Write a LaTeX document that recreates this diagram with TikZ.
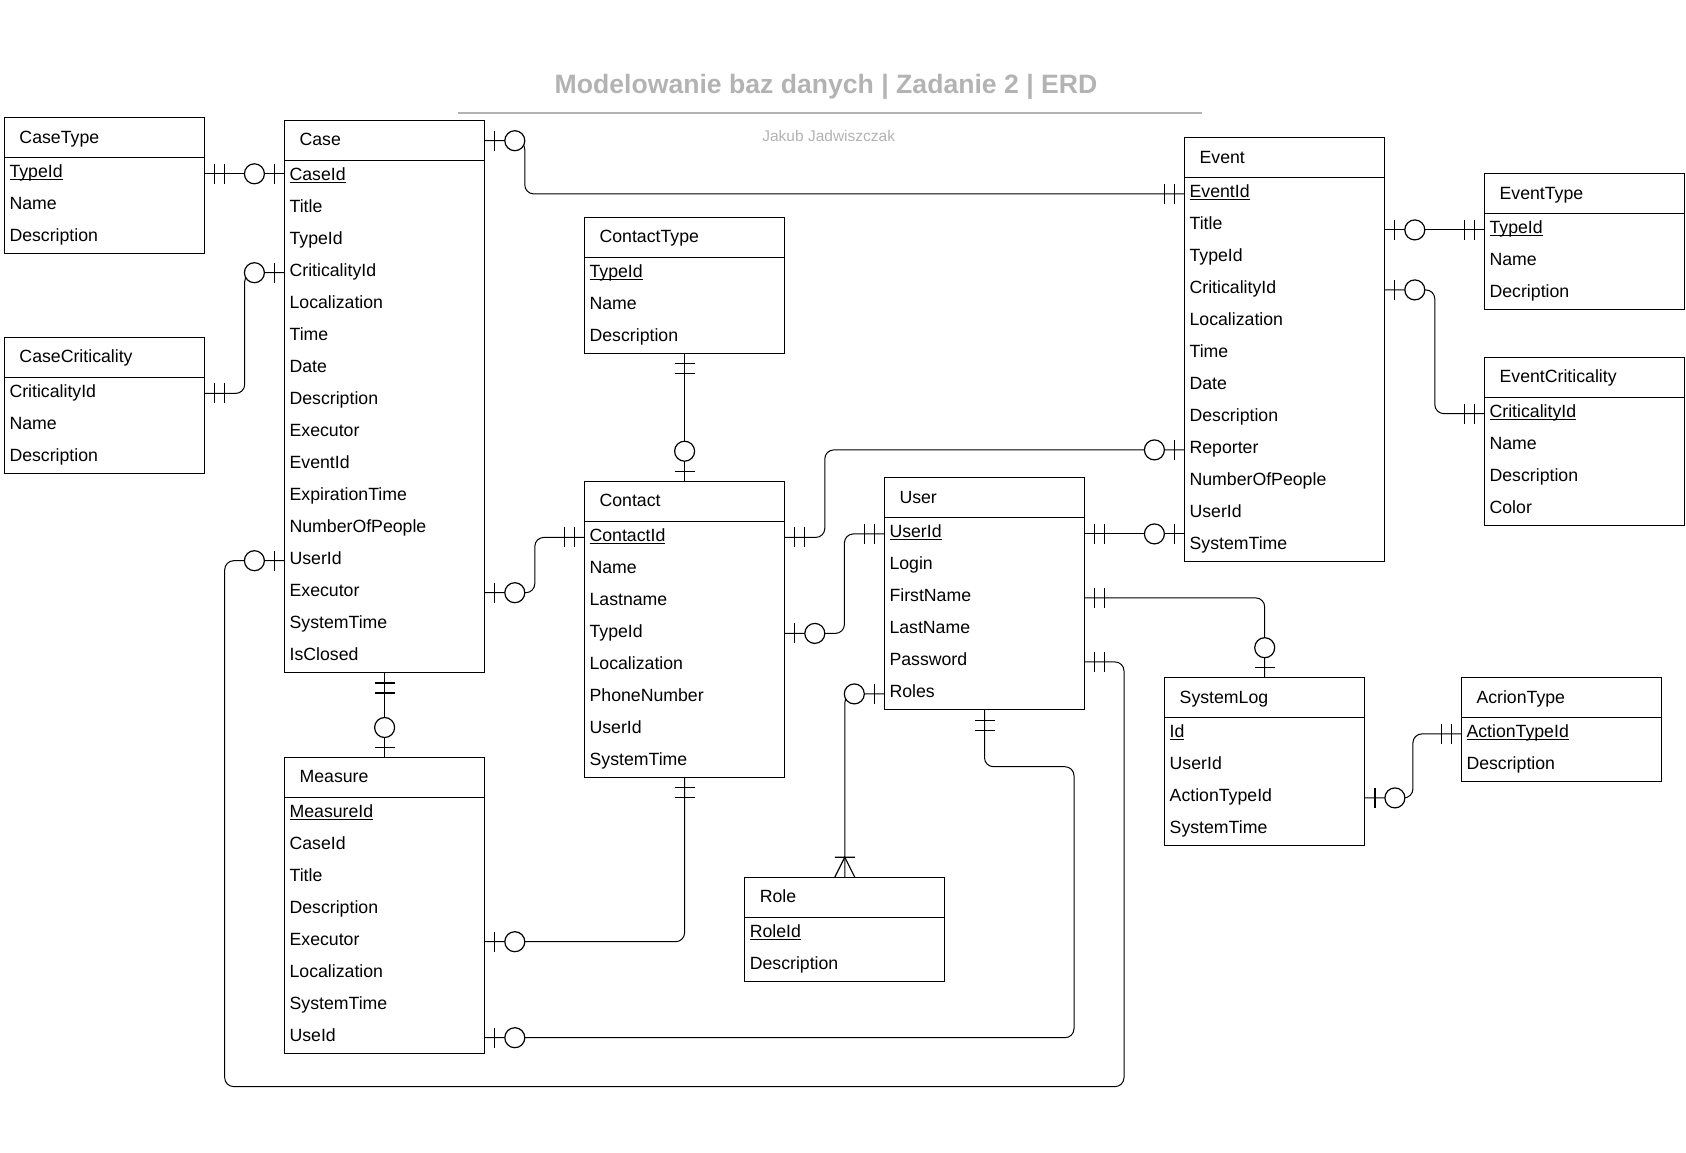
\documentclass[tikz,border=0pt]{standalone}
\usepackage{fontspec}
\setmainfont{Liberation Sans}
\usetikzlibrary{calc}
\definecolor{titlegray}{HTML}{B3B3B3}
\newcommand{\keyu}[1]{\leavevmode\setbox0=\hbox{#1}\rlap{\rule[-2.2pt]{\wd0}{1pt}}\box0}
\tikzset{
  ebox/.style={draw=black, line width=1.3pt},
  hdr/.style={anchor=north west, minimum width=200pt, minimum height=40pt, text width=170pt,
    inner xsep=15pt, inner ysep=0pt, align=left, text height=12.7pt, text depth=2.3pt,
    font=\fontsize{17.7}{21}\selectfont},
  erow/.style={anchor=north west, minimum width=200pt, minimum height=32pt, text width=190pt,
    inner xsep=5pt, inner ysep=0pt, align=left, text height=12.7pt, text depth=4.9pt,
    font=\fontsize{17.7}{21}\selectfont},
  conn/.style={draw=black, line width=1pt, rounded corners=9pt},
  mk/.style={draw=black, line width=1.2pt}
}
\newcommand{\erent}[5]{% name, x y, number of rows, title, rows
  \node[hdr] (#1) at (#2) {#4};
  \foreach \rowtxt [count=\ri] in {#5} {
    \node[erow] (#1-\ri) at ($(#2)+(0,{40+32*(\ri-1)})$) {\rowtxt};
  }
  \draw[ebox] (#2) rectangle ++(200,{40+32*#3});
  \draw[ebox] ($(#2)+(0,40)$) -- ++(200,0);
}
\newcommand{\mkone}[2]{\begin{scope}[shift={(#1)},rotate=#2]
  \draw[mk] (10,-10) -- (10,10) (20,-10) -- (20,10);\end{scope}}
\newcommand{\mkzero}[2]{\begin{scope}[shift={(#1)},rotate=#2]
  \draw[mk] (10,-10) -- (10,10); \draw[mk,fill=white] (30,0) circle[radius=10];\end{scope}}
\newcommand{\mkmany}[2]{\begin{scope}[shift={(#1)},rotate=#2]
  \draw[mk] (20,-10) -- (20,10) (0,-10) -- (20,0) -- (0,10);\end{scope}}
\begin{document}
\begin{tikzpicture}[x=1pt,y=-1pt]
\useasboundingbox (0,0) rectangle (1686,1152);
% title
\node[anchor=base, font=\bfseries\fontsize{26.6}{31}\selectfont, text=titlegray] (title) at (826,93.5) {Modelowanie baz danych | Zadanie 2 | ERD};
\draw[titlegray, line width=1.7pt] (458,112.8) -- (1201.6,112.8);
\node[anchor=base, font=\fontsize{15.5}{18}\selectfont, text=titlegray] (author) at (828.7,141.4) {Jakub Jadwiszczak};
% entities
\erent{casetype}{4.3,117.6}{3}{CaseType}{{\keyu{TypeId}},Name,Description}
\erent{case}{284.4,120.5}{16}{Case}{{\keyu{CaseId}},Title,TypeId,CriticalityId,Localization,Time,Date,Description,Executor,EventId,ExpirationTime,NumberOfPeople,UserId,Executor,SystemTime,IsClosed}
\erent{casecrit}{4.3,337.2}{3}{CaseCriticality}{CriticalityId,Name,Description}
\erent{contacttype}{584.4,217.4}{3}{ContactType}{{\keyu{TypeId}},Name,Description}
\erent{contact}{584.4,481.2}{8}{Contact}{{\keyu{ContactId}},Name,Lastname,TypeId,Localization,PhoneNumber,UserId,SystemTime}
\erent{user}{884.3,477.7}{6}{User}{{\keyu{UserId}},Login,FirstName,LastName,Password,Roles}
\erent{event}{1184.4,137.7}{12}{Event}{{\keyu{EventId}},Title,TypeId,CriticalityId,Localization,Time,Date,Description,Reporter,NumberOfPeople,UserId,SystemTime}
\erent{eventtype}{1484.4,173.7}{3}{EventType}{{\keyu{TypeId}},Name,Decription}
\erent{eventcrit}{1484.4,357.4}{4}{EventCriticality}{{\keyu{CriticalityId}},Name,Description,Color}
\erent{measure}{284.4,757.5}{8}{Measure}{{\keyu{MeasureId}},CaseId,Title,Description,Executor,Localization,SystemTime,UseId}
\erent{role}{744.6,877.2}{2}{Role}{{\keyu{RoleId}},Description}
\erent{syslog}{1164.5,677.7}{4}{SystemLog}{{\keyu{Id}},UserId,ActionTypeId,SystemTime}
\erent{acrion}{1461.3,677.7}{2}{AcrionType}{{\keyu{ActionTypeId}},Description}
% connectors
\draw[conn] (casetype-1.east) -- (casetype-1.east -| case-1.west) coordinate (c1e);
\draw[conn] (casecrit-1.east) -- ++(40,0) |- (case-4.west);
\draw[conn] (case.east) -- ++(40,0) |- (event-1.west);
\draw[conn] (case-14.east) -- ++(50,0) |- (contact-1.west);
\coordinate (c5a) at (224.7,1086.6);
\draw[conn] (case-13.west) -| (c5a) -| ([xshift=39.3pt]user-5.east) -- (user-5.east);
\draw[conn] (case-16.south) -- (measure.north);
\draw[conn] (contacttype-3.south) -- (contact.north);
\draw[conn] (contact-1.east) -- ++(40,0) |- (event-9.west);
\draw[conn] (contact-8.south) |- (measure-5.east);
\draw[conn] (contact-4.east) -- ++(59.6,0) |- (user-1.west);
\draw[conn] (user-1.east) -- (user-1.east -| event-11.west) coordinate (c11e);
\draw[conn] (user-3.east) -| (syslog.north);
\coordinate (c13a) at (1074,766.7);
\draw[conn] (user-6.south) |- (c13a) |- (measure-8.east);
\draw[conn] (user-6.west) -| (role.north);
\draw[conn] (eventtype-1.west) -- (eventtype-1.west -| event.east) coordinate (c15e);
\draw[conn] (event-4.east) -- ++(50,0) |- (eventcrit-1.west);
\draw[conn] (syslog-3.east) -- ++(48,0) |- (acrion-1.west);
% cardinality marks
\mkone{casetype-1.east}{0} \mkzero{c1e}{180}
\mkone{casecrit-1.east}{0} \mkzero{case-4.west}{180}
\mkzero{case.east}{0} \mkone{event-1.west}{180}
\mkzero{case-14.east}{0} \mkone{contact-1.west}{180}
\mkzero{case-13.west}{180} \mkone{user-5.east}{0}
\mkone{case-16.south}{270} \mkzero{measure.north}{90}
\mkone{contacttype-3.south}{270} \mkzero{contact.north}{90}
\mkone{contact-1.east}{0} \mkzero{event-9.west}{180}
\mkone{contact-8.south}{270} \mkzero{measure-5.east}{0}
\mkzero{contact-4.east}{0} \mkone{user-1.west}{180}
\mkone{user-1.east}{0} \mkzero{c11e}{180}
\mkone{user-3.east}{0} \mkzero{syslog.north}{90}
\mkone{user-6.south}{270} \mkzero{measure-8.east}{0}
\mkzero{user-6.west}{180} \mkmany{role.north}{90}
\mkone{eventtype-1.west}{180} \mkzero{c15e}{0}
\mkzero{event-4.east}{0} \mkone{eventcrit-1.west}{180}
\mkzero{syslog-3.east}{0} \mkone{acrion-1.west}{180}
\end{tikzpicture}
\end{document}
